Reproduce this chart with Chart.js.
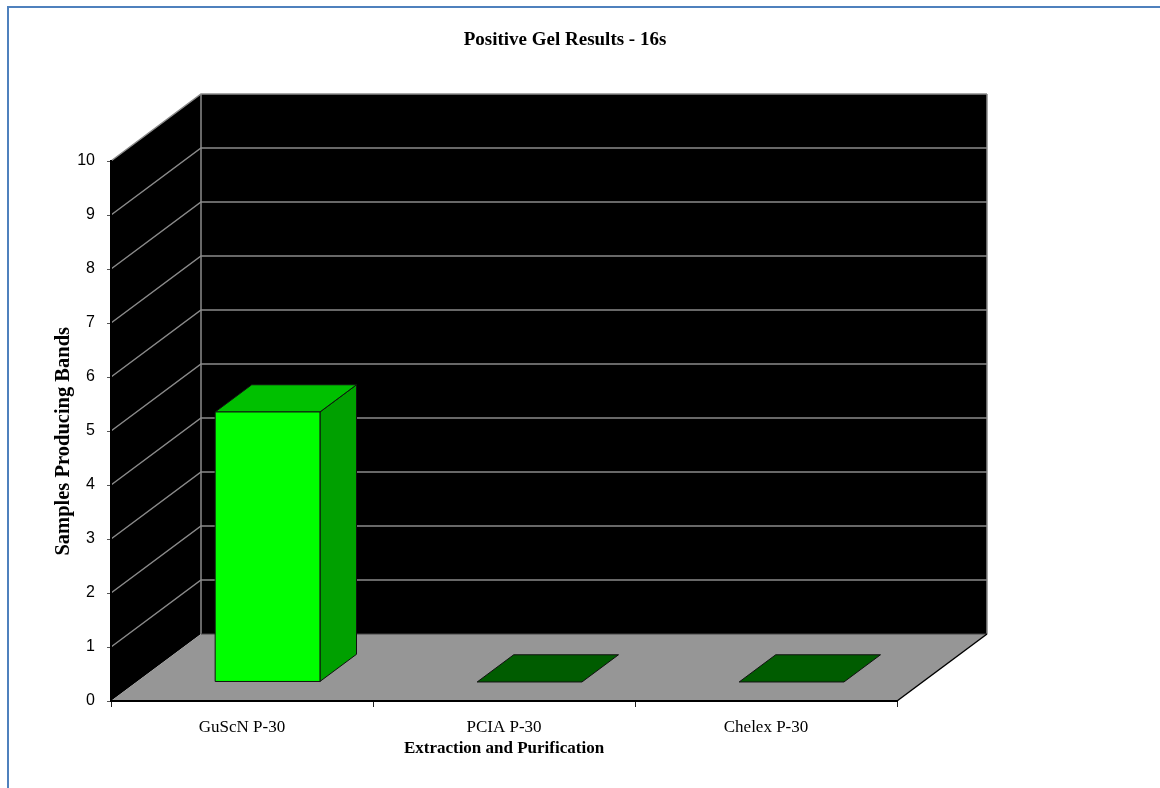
<!DOCTYPE html>
<html>
<head>
<meta charset="utf-8">
<title>Positive Gel Results - 16s</title>
<script src="https://cdn.jsdelivr.net/npm/chart.js@4.4.1/dist/chart.umd.min.js"></script>
<style>
  html, body { margin: 0; padding: 0; background: #fff; }
  #wrap { position: relative; width: 1160px; height: 788px; overflow: hidden; }
  #frame { position: absolute; left: 7px; top: 6px; width: 1200px; height: 900px;
           border-top: 2px solid #4f81bd; border-left: 2px solid #4f81bd; }
  #chart { position: absolute; left: 0; top: 0; }
</style>
</head>
<body>
<div id="wrap">
  <div id="frame"></div>
  <canvas id="chart" width="1160" height="788"></canvas>
</div>
<script>
const categories = ['GuScN P-30', 'PCIA P-30', 'Chelex P-30'];
const bandCounts = [5, 0, 0];
const yMin = 0;
const yMax = 10;
const yStep = 1;

// perspective offset of the back wall, and where the bars sit in that depth
const DEPTH_X = 90;
const DEPTH_Y = -67;
const BAR_Z0 = 0.284;
const BAR_Z1 = 0.69;

const SERIF = "'Liberation Serif', 'Times New Roman', serif";
const SANS = "'Liberation Sans', Arial, sans-serif";

function poly(ctx, pts) {
  ctx.beginPath();
  ctx.moveTo(pts[0][0], pts[0][1]);
  for (let i = 1; i < pts.length; i++) ctx.lineTo(pts[i][0], pts[i][1]);
  ctx.closePath();
}

// black walls, grey floor and the gridlines on both walls
const walls3d = {
  id: 'walls3d',
  beforeDraw(chart) {
    const { ctx, chartArea: a, scales: { y } } = chart;
    const dx = DEPTH_X, dy = DEPTH_Y;
    ctx.save();

    ctx.fillStyle = '#000';
    poly(ctx, [[a.left, a.top], [a.left + dx, a.top + dy], [a.left + dx, a.bottom + dy], [a.left, a.bottom]]);
    ctx.fill();
    ctx.fillRect(a.left + dx, a.top + dy, a.right - a.left, a.bottom - a.top);

    ctx.fillStyle = '#969696';
    poly(ctx, [[a.left, a.bottom], [a.right, a.bottom], [a.right + dx, a.bottom + dy], [a.left + dx, a.bottom + dy]]);
    ctx.fill();

    ctx.strokeStyle = '#8a8a8a';
    ctx.lineWidth = 1.5;
    y.ticks.forEach(t => {
      if (t.value === yMin) return;
      const py = y.getPixelForValue(t.value);
      ctx.beginPath();
      ctx.moveTo(a.left, py);
      ctx.lineTo(a.left + dx, py + dy);
      ctx.lineTo(a.right + dx, py + dy);
      ctx.stroke();
    });
    ctx.beginPath();
    ctx.moveTo(a.left + dx, a.top + dy);
    ctx.lineTo(a.left + dx, a.bottom + dy);
    ctx.moveTo(a.right + dx, a.top + dy);
    ctx.lineTo(a.right + dx, a.bottom + dy);
    ctx.stroke();

    ctx.strokeStyle = '#444';
    ctx.lineWidth = 1;
    ctx.beginPath();
    ctx.moveTo(a.left + dx, a.bottom + dy);
    ctx.lineTo(a.right + dx, a.bottom + dy);
    ctx.stroke();

    ctx.strokeStyle = '#000';
    ctx.lineWidth = 1.5;
    ctx.beginPath();
    ctx.moveTo(a.right, a.bottom);
    ctx.lineTo(a.right + dx, a.bottom + dy);
    ctx.stroke();
    ctx.restore();
  }
};

// turns each flat bar element into a box with side and top faces
const bars3d = {
  id: 'bars3d',
  afterDatasetsDraw(chart) {
    const { ctx } = chart;
    const meta = chart.getDatasetMeta(0);
    const ox = DEPTH_X * BAR_Z0, oy = DEPTH_Y * BAR_Z0;
    const tx = DEPTH_X * (BAR_Z1 - BAR_Z0), ty = DEPTH_Y * (BAR_Z1 - BAR_Z0);
    ctx.save();
    ctx.lineWidth = 1;
    ctx.strokeStyle = '#111';
    ctx.lineJoin = 'round';
    meta.data.forEach(bar => {
      const { x, y, base, width } = bar.getProps(['x', 'y', 'base', 'width'], true);
      const l = x - width / 2 + ox, r = x + width / 2 + ox;
      const t = y + oy, b = base + oy;
      const hasHeight = b - t > 0.5;

      if (hasHeight) {
        ctx.fillStyle = '#00a000';
        poly(ctx, [[r, b], [r, t], [r + tx, t + ty], [r + tx, b + ty]]);
        ctx.fill();
        ctx.stroke();
      }

      ctx.fillStyle = hasHeight ? '#00c000' : '#005c00';
      poly(ctx, [[l, t], [r, t], [r + tx, t + ty], [l + tx, t + ty]]);
      ctx.fill();
      ctx.stroke();

      if (hasHeight) {
        ctx.fillStyle = '#00ff00';
        ctx.fillRect(l, t, r - l, b - t);
        ctx.strokeRect(l, t, r - l, b - t);
      }
    });
    ctx.restore();
  }
};

new Chart(document.getElementById('chart'), {
  type: 'bar',
  data: {
    labels: categories,
    datasets: [{
      label: 'Samples Producing Bands',
      data: bandCounts,
      backgroundColor: 'rgba(0,0,0,0)',
      borderWidth: 0,
      categoryPercentage: 1,
      barPercentage: 0.4
    }]
  },
  options: {
    responsive: false,
    animation: false,
    devicePixelRatio: 1,
    layout: { padding: { left: 10, right: 40, top: 10, bottom: 10 } },
    plugins: {
      legend: { display: false },
      tooltip: { enabled: false },
      title: {
        display: true,
        text: 'Positive Gel Results - 16s',
        color: '#000',
        font: { family: SERIF, size: 19, weight: 'bold' },
        padding: { top: 18.6, bottom: 109.6 }
      }
    },
    scales: {
      x: {
        grid: { drawOnChartArea: false, drawTicks: true, tickLength: 6, color: '#222', offset: true },
        border: { display: true, color: '#000', width: 2 },
        ticks: { color: '#000', padding: 10, font: { family: SERIF, size: 17 } },
        title: {
          display: true,
          text: 'Extraction and Purification',
          color: '#000',
          font: { family: SERIF, size: 17, weight: 'bold' },
          padding: { top: 0, bottom: 19 }
        },
        afterFit(scale) { scale.height = 77; }
      },
      y: {
        min: yMin,
        max: yMax,
        ticks: { stepSize: yStep, color: '#000', padding: 12, font: { family: SANS, size: 16 } },
        grid: { drawOnChartArea: false, tickLength: 4, color: '#555' },
        border: { display: true, color: '#000', width: 2 },
        title: {
          display: true,
          // trailing spaces nudge the rotated title a little lower
          text: 'Samples Producing Bands    ',
          color: '#000',
          font: { family: SERIF, size: 20.5, weight: 'bold' },
          padding: { top: 41, bottom: 0 }
        },
        afterFit(scale) { scale.width = 101; }
      },
      side: {
        position: 'right',
        display: true,
        ticks: { display: false },
        grid: { display: false },
        border: { display: false },
        afterFit(scale) { scale.width = 223; }
      }
    }
  },
  plugins: [walls3d, bars3d]
});
</script>
</body>
</html>
